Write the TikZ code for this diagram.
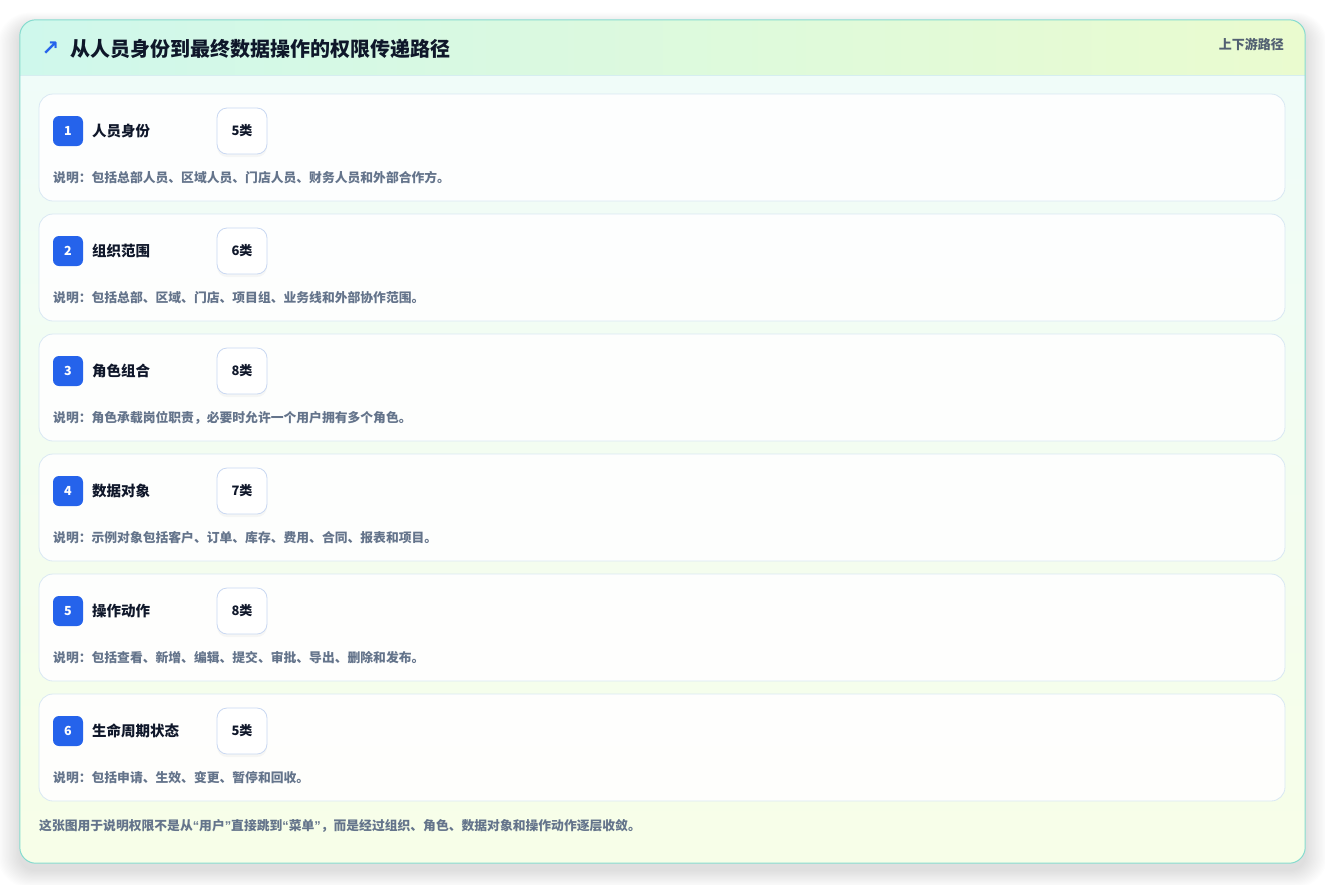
\documentclass[tikz,border=0pt]{standalone}
\usepackage{fontspec}
\setmainfont{Noto Sans CJK SC}
\newfontfamily\symfont{DejaVu Sans}
\newfontfamily\quotefont{Liberation Sans}
\usetikzlibrary{shadows}
\definecolor{cardborder}{HTML}{86DCCF}
\definecolor{hleft}{HTML}{CFF8EC}
\definecolor{hright}{HTML}{EAFBCF}
\definecolor{btop}{HTML}{EFFCFA}
\definecolor{bbot}{HTML}{F7FEE8}
\definecolor{rowborder}{HTML}{D9E8F3}
\definecolor{badgeblue}{HTML}{2563EB}
\definecolor{ink}{HTML}{0F172A}
\definecolor{desccol}{HTML}{64748B}
\definecolor{tagcol}{HTML}{526072}
\definecolor{cntborder}{HTML}{C9D8F2}
\definecolor{headline}{HTML}{D6EEF0}
\newcommand{\myLQ}{{\quotefont “}}
\newcommand{\myRQ}{{\quotefont ”}}
\tikzset{
  rowbox/.style={draw=rowborder, line width=0.8pt, fill=white, fill opacity=0.9, draw opacity=1,
    rounded corners=14pt, minimum width=1246pt, minimum height=107pt, inner sep=0pt},
  badge/.style={fill=badgeblue, rounded corners=6pt, minimum width=30pt, minimum height=30pt,
    inner sep=0pt, text=white, font=\bfseries\fontsize{12.5}{14}\selectfont},
  lab/.style={anchor=west, inner sep=0pt, text=ink, font=\bfseries\fontsize{14.5}{17}\selectfont},
  cnt/.style={draw=cntborder, line width=0.8pt, fill=white, rounded corners=10pt,
    minimum width=50pt, minimum height=46pt, inner sep=0pt, text=ink,
    font=\bfseries\fontsize{13}{15}\selectfont,
    drop shadow={opacity=0.06, shadow xshift=0pt, shadow yshift=-3pt}},
  desc/.style={anchor=west, inner sep=0pt, text=desccol, font=\bfseries\fontsize{12.8}{15}\selectfont},
}
\begin{document}
\begin{tikzpicture}[x=1pt,y=-1pt]
\useasboundingbox[fill=white] (0,0) rectangle (1325,884);
% soft shadow of the card
\foreach \i in {1,...,16}
  \fill[black, opacity=0.008, rounded corners=16pt+\i pt]
    (20-\i*1.4, 27-\i*0.9) rectangle (1305+\i*1.4, 870+\i*1.1);
% card
\node[minimum width=1285pt, minimum height=843pt, inner sep=0pt, rounded corners=16pt,
      top color=btop, bottom color=bbot] (card) at (662.5,441.5) {};
\begin{scope}
  \clip[rounded corners=16pt] (20,20) rectangle (1305,863);
  \shade[left color=hleft, right color=hright] (20,20) rectangle (1305,75);
\end{scope}
\draw[headline, line width=0.8pt] (card.west |- 0,75) coordinate (hl) -- (card.east |- 0,75) coordinate (hr);
\draw[cardborder, line width=1pt, rounded corners=16pt] (card.north west) rectangle (card.south east);
% header
\node[anchor=center, inner sep=0pt, text=badgeblue, font=\symfont\bfseries\fontsize{21}{23}\selectfont] (icon) at (50.5,49) {↗};
\node[anchor=west, inner sep=0pt, text=ink, font=\bfseries\fontsize{20}{23}\selectfont] (title) at (70,49) {从人员身份到最终数据操作的权限传递路径};
\node[anchor=east, inner sep=0pt, text=tagcol, font=\bfseries\fontsize{13}{15}\selectfont] (tag) at (1284,44) {上下游路径};
% rows
\foreach \n/\lab/\cnt/\dsc in {
  1/人员身份/5类/{说明：包括总部人员、区域人员、门店人员、财务人员和外部合作方。},
  2/组织范围/6类/{说明：包括总部、区域、门店、项目组、业务线和外部协作范围。},
  3/角色组合/8类/{说明：角色承载岗位职责，必要时允许一个用户拥有多个角色。},
  4/数据对象/7类/{说明：示例对象包括客户、订单、库存、费用、合同、报表和项目。},
  5/操作动作/8类/{说明：包括查看、新增、编辑、提交、审批、导出、删除和发布。},
  6/生命周期状态/5类/{说明：包括申请、生效、变更、暂停和回收。}}
{
  \pgfmathsetmacro{\yy}{94+(\n-1)*120}
  \node[rowbox] (row\n) at (662,\yy+53.5) {};
  \node[badge] (badge\n) at (68,\yy+37) {\n};
  \node[lab] (label\n) at (92,\yy+37) {\lab};
  \node[cnt] (count\n) at (242,\yy+37) {\cnt};
  \node[desc] (desc\n) at (53,\yy+84) {\dsc};
}
% footer
\node[desc] (note) at (39,826) {这张图用于说明权限不是从\myLQ 用户\myRQ 直接跳到\myLQ 菜单\myRQ ，而是经过组织、角色、数据对象和操作动作逐层收敛。};
\end{tikzpicture}
\end{document}
